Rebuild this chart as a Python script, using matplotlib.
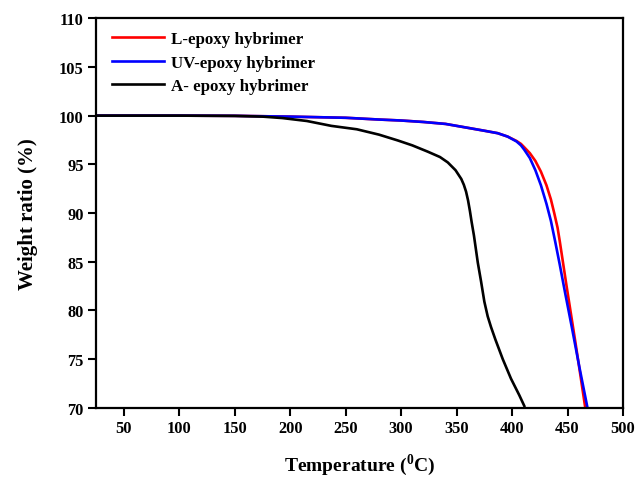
import matplotlib
matplotlib.use("Agg")
import matplotlib.pyplot as plt
import numpy as np

plt.rcParams['font.family'] = ['Liberation Serif', 'DejaVu Serif']
plt.rcParams['font.weight'] = 'bold'
plt.rcParams['mathtext.fontset'] = 'custom'
plt.rcParams['mathtext.rm'] = 'Liberation Serif:bold'
plt.rcParams['mathtext.bf'] = 'Liberation Serif:bold'

# TGA curves
t_L = [25, 100, 150, 200, 250, 280, 300, 320, 340, 360, 375, 387, 396, 404, 408, 411, 416, 421, 426,
       431, 435, 438, 441, 443, 445, 449, 453, 457, 461, 466]
w_L = [100, 100, 99.98, 99.9, 99.78, 99.6, 99.5, 99.35, 99.15, 98.75, 98.45, 98.2, 97.85, 97.4, 97.1,
       96.75, 96.15, 95.35, 94.25, 92.85, 91.4, 90.0, 88.5, 87.1, 85.6, 82.6, 79.7, 76.8, 73.8, 70.0]

t_UV = [25, 100, 150, 200, 250, 280, 300, 320, 340, 360, 375, 387, 396, 404, 408, 411, 416, 421, 426,
        431, 435, 439, 443, 448, 454, 461, 468]
w_UV = [100, 100, 99.98, 99.9, 99.78, 99.6, 99.5, 99.35, 99.15, 98.75, 98.45, 98.2, 97.85, 97.35, 96.95,
        96.5, 95.65, 94.4, 92.85, 90.95, 89.2, 87.0, 84.7, 81.7, 78.2, 74.0, 70.0]

t_A = [25, 100, 150, 175, 193, 215, 237, 260, 280, 297, 310, 324, 335, 342, 349, 354.2, 356.5, 358.5,
       360.3, 362, 363.5, 365.6, 369.1, 372, 375, 378, 381, 385, 391.6, 399, 406.5, 411]
w_A = [100, 100, 99.97, 99.9, 99.75, 99.45, 98.95, 98.6, 98.05, 97.45, 96.95, 96.3, 95.75, 95.2, 94.4,
       93.5, 92.9, 92.2, 91.3, 90.2, 89.1, 87.7, 84.9, 83.0, 80.9, 79.4, 78.3, 77.0, 75.0, 73.0, 71.3, 70.2]

fig = plt.figure(figsize=(6.37, 4.81), dpi=100)
ax = fig.add_axes([0.151, 0.150, 0.827, 0.810])

ax.plot(t_L, w_L, color='#ff0000', lw=1.9, label='L-epoxy hybrimer', solid_joinstyle='round')
ax.plot(t_UV, w_UV, color='#0000ff', lw=1.9, label='UV-epoxy hybrimer', solid_joinstyle='round')
ax.plot(t_A, w_A, color='black', lw=1.9, label='A- epoxy hybrimer', solid_joinstyle='round')

ax.set_xlim(25, 500)
ax.set_ylim(70, 110)
ax.set_xticks(np.arange(50, 501, 50))
ax.set_yticks(np.arange(70, 111, 5))
ax.tick_params(direction='out', length=6, width=1.5, labelsize=11.8, pad=3)
for s in ax.spines.values():
    s.set_linewidth(1.6)

ax.set_xlabel(r'Temperature ($^{\mathbf{0}}$C)', fontsize=14, fontweight='bold', labelpad=11)
ax.set_ylabel('Weight ratio (%)', fontsize=15, fontweight='bold', labelpad=15)

leg = ax.legend(loc='upper left', frameon=False, fontsize=12.2, handlelength=3.1,
                handletextpad=0.4, labelspacing=0.45, borderaxespad=0.35,
                bbox_to_anchor=(0.005, 1.0))
for t in leg.get_texts():
    t.set_fontweight('bold')

fig.savefig('out.png', dpi=100)
